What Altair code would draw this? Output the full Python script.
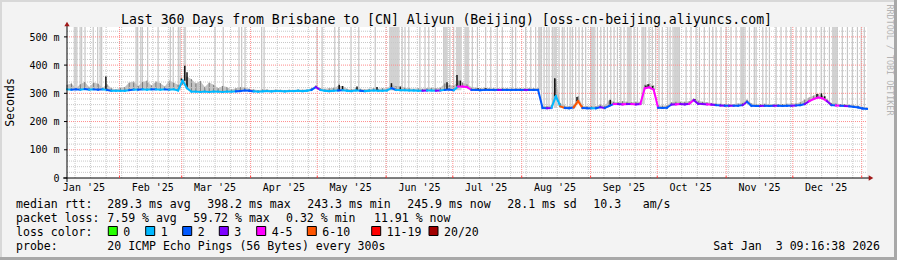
import altair as alt
import pandas as pd
from datetime import datetime, timedelta

# ---------------- data ----------------
START = datetime(2025, 1, 8, 9, 16, 38)
END = datetime(2026, 1, 3, 9, 16, 38)
SPAN_DAYS = 360

sample_days = list(range(0, 361, 2))

median_ms = [
    314, 313, 314, 313, 315, 313, 314, 313, 314, 312,
    309, 309, 309, 309, 311, 313, 313, 314, 313, 314,
    314, 313, 314, 313, 314, 310, 345, 318, 306, 306,
    305, 306, 305, 306, 306, 305, 306, 306, 307, 308,
    310, 309, 307, 306, 307, 308, 307, 308, 308, 307,
    308, 308, 309, 308, 309, 312, 322, 312, 309, 308,
    309, 310, 311, 309, 308, 310, 309, 308, 309, 310,
    309, 309, 310, 318, 312, 311, 311, 310, 310, 309,
    309, 310, 310, 309, 310, 312, 313, 311, 324, 324,
    322, 312, 312, 311, 312, 312, 312, 312, 312, 312,
    312, 312, 312, 312, 312, 312, 312, 248, 247, 248,
    290, 254, 248, 247, 250, 272, 248, 247, 247, 247,
    251, 248, 255, 262, 262, 261, 262, 262, 261, 262,
    318, 321, 313, 249, 248, 249, 260, 261, 262, 261,
    263, 276, 263, 262, 261, 260, 258, 257, 256, 256,
    256, 256, 258, 270, 256, 255, 255, 256, 255, 256,
    256, 255, 256, 256, 257, 258, 262, 272, 280, 285,
    282, 272, 258, 257, 256, 255, 254, 252, 250, 246,
    245,
]

loss_class = [
    1, 2, 2, 1, 2, 1, 2, 2, 1, 2,
    1, 1, 1, 1, 2, 1, 2, 1, 1, 2,
    1, 1, 2, 1, 1, 1, 1, 1, 1, 1,
    1, 1, 1, 1, 1, 1, 1, 1, 2, 2,
    2, 2, 1, 1, 1, 1, 1, 1, 1, 1,
    1, 1, 1, 1, 1, 2, 3, 1, 1, 1,
    1, 2, 1, 1, 1, 1, 2, 1, 1, 1,
    1, 1, 1, 2, 1, 1, 1, 1, 1, 1,
    3, 1, 1, 3, 1, 2, 2, 1, 4, 4,
    4, 2, 2, 2, 2, 2, 2, 3, 2, 2,
    2, 2, 2, 3, 2, 2, 2, 2, 3, 1,
    1, 5, 2, 2, 5, 5, 2, 2, 1, 2,
    3, 2, 2, 4, 3, 4, 3, 4, 3, 4,
    4, 4, 4, 2, 2, 2, 3, 4, 3, 3,
    4, 3, 3, 3, 4, 3, 2, 3, 2, 3,
    2, 2, 3, 2, 2, 2, 3, 2, 2, 3,
    2, 2, 2, 3, 2, 2, 3, 4, 4, 4,
    4, 3, 2, 4, 2, 3, 2, 2, 2, 2,
    2,
]

smoke_top_ms = [
    330, 335, 318, 332, 340, 322, 338, 334, 320, 332,
    318, 314, 320, 322, 338, 342, 326, 340, 345, 328,
    342, 336, 324, 345, 338, 330, 330, 360, 350, 335,
    344, 322, 338, 330, 318, 326, 322, 314, 318, 322,
    320, 316, 314, 312, 314, 314, 312, 314, 313, 312,
    313, 312, 314, 313, 314, 318, 328, 318, 316, 318,
    320, 325, 326, 316, 314, 318, 316, 314, 316, 318,
    316, 318, 317, 330, 325, 326, 320, 318, 316, 318,
    316, 318, 320, 318, 320, 335, 330, 326, 345, 338,
    332, 322, 320, 318, 320, 318, 318, 317, 318, 318,
    317, 318, 318, 317, 318, 318, 318, 256, 254, 258,
    350, 265, 256, 254, 258, 290, 256, 254, 254, 254,
    260, 256, 275, 270, 268, 272, 270, 268, 270, 270,
    330, 334, 328, 258, 256, 258, 268, 270, 270, 270,
    272, 282, 274, 270, 268, 266, 264, 263, 262, 262,
    262, 264, 266, 278, 264, 262, 262, 263, 262, 262,
    262, 262, 263, 264, 264, 268, 278, 285, 292, 298,
    292, 280, 266, 264, 262, 262, 260, 258, 256, 252,
    250,
]

tall_smoke_days = [
    3.6, 4.4, 5.9, 6.6, 8.1, 11.8, 13.8, 14.9, 15.6, 31.1, 31.8, 33.2, 33.9,
    36.3, 41.0, 46.5, 47.8, 50.1, 50.9, 66.6, 70.3, 77.4, 78.6, 80.1, 87.6,
    88.7, 112.5, 114.8, 120.5, 122.3, 127.8, 131.3, 138.7, 145.4, 146.3, 147.2,
    148.1, 149.3, 150.8, 152.1, 153.8, 158.8, 161.1, 162.8, 165.7, 169.5, 170.1,
    171.0, 172.3, 174.0, 175.5, 176.4, 177.3,
    179.4, 180.5, 182.4, 184.7, 188.4, 190.7, 193.6, 195.9, 200.4, 201.9, 206.4,
    208.7, 210.9, 212.4, 213.5, 214.7, 215.9, 216.9, 218.4, 219.2, 221.4, 222.9,
    223.7, 225.2, 226.4, 227.4, 228.9, 230.4, 231.9, 233.4, 235.7, 237.2, 238.7,
    240.2, 241.7, 243.2, 244.7, 246.2, 247.7, 249.2, 250.7, 252.2, 253.7, 255.2,
    256.7, 258.9, 260.4, 261.9, 263.4, 264.9, 266.4, 267.9,
    270.3, 271.4, 272.7, 273.8, 275.1, 275.6, 278.6, 280.8, 283.1, 284.6, 286.8,
    289.1, 290.6, 292.1, 294.3, 296.6, 298.8, 301.1, 303.3, 304.2, 305.1, 307.1,
    309.3, 310.1, 313.1, 314.6, 316.1, 319.1, 321.3, 323.6, 325.8, 328.1, 330.3,
    332.6, 334.8, 337.1, 339.4, 340.8, 343.1, 344.6, 345.2, 345.8, 346.6, 348.9,
    351.2, 353.4, 355.7, 357.4, 358.8,
]

# denser bands of smoke (start day, end day)
smoke_band_start = [3.0, 52.5, 145.0, 169.5, 175.0, 178.8, 212.0, 219.0, 235.5,
                    252.0, 258.5, 273.0, 303.2, 344.2]
smoke_band_end = [4.6, 53.6, 149.5, 171.0, 177.5, 181.0, 213.5, 220.5, 237.8,
                  254.0, 260.0, 275.6, 304.6, 346.6]

spike_days = [17.5, 51.5, 53.0, 54.0, 122.5, 124.0, 130.5, 139.5, 146.0, 150.0,
              171.0, 175.5, 177.0, 181.0, 185.0, 188.5, 219.5, 229.5, 244.5,
              260.5, 261.5, 262.5, 263.5, 282.5, 337.5, 339.5, 341.0]
spike_top_ms = [360, 353, 398, 375, 330, 326, 324, 322, 336, 322,
                339, 365, 345, 322, 318, 318, 353, 287, 277,
                328, 332, 318, 326, 280, 298, 300, 290]

loss_names = ["0", "1", "2", "3", "4-5", "6-10", "11-19", "20/20"]
loss_colors = ["#26ff00", "#00b8ff", "#0059ff", "#7e00ff", "#ff00ff",
               "#ff5500", "#ff0000", "#a10000"]

month_labels = ["Jan '25", "Feb '25", "Mar '25", "Apr '25", "May '25", "Jun '25",
                "Jul '25", "Aug '25", "Sep '25", "Oct '25", "Nov '25", "Dec '25"]
y_tick_values = [0, 100, 200, 300, 400, 500]
y_tick_labels = ["0\u00a0\u00a0", "100 m", "200 m", "300 m", "400 m", "500 m"]

title_text = "Last 360 Days from Brisbane to [CN] Aliyun (Beijing) [oss-cn-beijing.aliyuncs.com]"
legend_row1 = ["median rtt:", "289.3 ms avg", "398.2 ms max", "243.3 ms min",
               "245.9 ms now", "28.1 ms sd", "10.3", "am/s"]
legend_row2 = ["packet loss:", "7.59 % avg", "59.72 % max", "0.32 % min", "11.91 % now"]
probe_text = "20 ICMP Echo Pings (56 Bytes) every 300s"
date_text = "Sat Jan\u00a0\u00a03 09:16:38 2026"

# ---------------- layout ----------------
W, H = 800, 151
Y_MAX = 535
FONT = "DejaVu Sans Mono"
OX, OY = 67, 27   # plot origin inside the canvas

def day_of(dt):
    return (dt - START).total_seconds() / 86400.0

xs = alt.Scale(domain=[0, SPAN_DAYS], nice=False, zero=False)
ys = alt.Scale(domain=[0, Y_MAX], nice=False, zero=False)

def X(f):
    return alt.X(f, type="quantitative", scale=xs, axis=None)

def Y(f):
    return alt.Y(f, type="quantitative", scale=ys, axis=None)

def nearest_median(d):
    i = min(range(len(sample_days)), key=lambda k: abs(sample_days[k] - d))
    return median_ms[i]

one = pd.DataFrame({"a": [0]})
layers = []

# tall light smoke
tall_df = pd.DataFrame({"day": tall_smoke_days,
                        "lo": [nearest_median(d) for d in tall_smoke_days],
                        "hi": [Y_MAX] * len(tall_smoke_days)})
layers.append(alt.Chart(tall_df).mark_rule(color="#c6c6c6", strokeWidth=1.2, clip=True)
              .encode(x=X("day"), y=Y("lo"), y2="hi"))
band_df = pd.DataFrame({"d0": smoke_band_start, "d1": smoke_band_end,
                        "lo": [nearest_median(d) for d in smoke_band_start],
                        "hi": [Y_MAX] * len(smoke_band_start)})
layers.append(alt.Chart(band_df).mark_rect(color="#d2d2d2", clip=True)
              .encode(x=X("d0"), x2="d1", y=Y("lo"), y2="hi"))

# medium smoke: a band plus hair lines
sm_df = pd.DataFrame({"day": sample_days, "lo": median_ms, "hi": smoke_top_ms})
layers.append(alt.Chart(sm_df).mark_area(color="#b4b4b4", opacity=0.8)
              .encode(x=X("day"), y=Y("lo"), y2="hi"))
layers.append(alt.Chart(sm_df).mark_rule(color="#7a7a7a", strokeWidth=1)
              .encode(x=X("day"), y=Y("lo"), y2="hi"))

# horizontal grid
minor_h = [v for v in range(20, Y_MAX, 20) if v % 100 != 0]
layers.append(alt.Chart(pd.DataFrame({"v": minor_h})).mark_rule(
    color="#c8c8c8", strokeWidth=1, strokeDash=[1, 1])
    .encode(y=Y("v"), x=alt.value(0), x2=alt.value(W)))
layers.append(alt.Chart(pd.DataFrame({"v": y_tick_values[1:]})).mark_rule(
    color="#ff8c8c", strokeWidth=1, strokeDash=[1, 1])
    .encode(y=Y("v"), x=alt.value(0), x2=alt.value(W)))

# vertical grid
sundays = []
d = datetime(2025, 1, 12)
while d < END:
    sundays.append(day_of(d))
    d += timedelta(days=7)
month_starts = [day_of(datetime(2025, m, 1)) for m in range(2, 13)] + [day_of(datetime(2026, 1, 1))]
label_days = [day_of(datetime(2025, m, 16)) for m in range(1, 13)]

layers.append(alt.Chart(pd.DataFrame({"d": sundays})).mark_rule(
    color="#c8c8c8", strokeWidth=1, strokeDash=[1, 1])
    .encode(x=X("d"), y=alt.value(0), y2=alt.value(H)))
layers.append(alt.Chart(pd.DataFrame({"d": month_starts})).mark_rule(
    color="#ff8c8c", strokeWidth=1, strokeDash=[1, 1])
    .encode(x=X("d"), y=alt.value(0), y2=alt.value(H)))

# black spikes
sp_df = pd.DataFrame({"day": spike_days,
                      "lo": [nearest_median(d) for d in spike_days],
                      "hi": spike_top_ms})
layers.append(alt.Chart(sp_df).mark_rule(color="#111111", strokeWidth=1.5)
              .encode(x=X("day"), y=Y("lo"), y2="hi"))

# median line coloured by loss
seg = pd.DataFrame({
    "d0": sample_days[:-1], "d1": sample_days[1:],
    "v0": median_ms[:-1], "v1": median_ms[1:],
    "loss": [loss_names[c] for c in loss_class[:-1]],
})
layers.append(alt.Chart(seg).mark_rule(strokeWidth=2, strokeCap="square")
              .encode(x=X("d0"), x2="d1", y=Y("v0"), y2="v1",
                      color=alt.Color("loss:N", scale=alt.Scale(domain=loss_names, range=loss_colors),
                                      legend=None)))

# axes
layers.append(alt.Chart(one).mark_rule(color="#000000", strokeWidth=1)
              .encode(x=alt.value(-4), x2=alt.value(W + 2), y=alt.value(H)))
layers.append(alt.Chart(one).mark_rule(color="#000000", strokeWidth=1)
              .encode(x=alt.value(0), y=alt.value(H + 4), y2=alt.value(-3)))
layers.append(alt.Chart(one).mark_point(shape="triangle-right", filled=True, size=28,
                                        color="#a01818", opacity=1)
              .encode(x=alt.value(W + 4), y=alt.value(H)))
layers.append(alt.Chart(one).mark_point(shape="triangle-up", filled=True, size=28,
                                        color="#a01818", opacity=1)
              .encode(x=alt.value(0), y=alt.value(-3)))
# ticks
layers.append(alt.Chart(pd.DataFrame({"v": y_tick_values})).mark_rule(color="#000000")
              .encode(y=Y("v"), x=alt.value(-3), x2=alt.value(0)))
layers.append(alt.Chart(pd.DataFrame({"d": month_starts})).mark_rule(color="#ff4040")
              .encode(x=X("d"), y=alt.value(H - 2), y2=alt.value(H)))

# y labels
layers.append(alt.Chart(pd.DataFrame({"v": y_tick_values, "t": y_tick_labels}))
              .mark_text(font=FONT, fontSize=10, align="right", baseline="alphabetic", dy=3.7,
                         color="#000000")
              .encode(y=Y("v"), x=alt.value(-7.5), text="t:N"))
# x labels
layers.append(alt.Chart(pd.DataFrame({"d": label_days, "t": month_labels}))
              .mark_text(font=FONT, fontSize=10, align="center", baseline="alphabetic",
                         color="#000000")
              .encode(x=X("d"), y=alt.value(164), text="t:N"))

def txt(s, x_abs, y_abs, size=11.55, align="left", baseline="alphabetic", angle=0, color="#000000"):
    kw = dict(font=FONT, fontSize=size, align=align, baseline=baseline, color=color, text=s)
    if angle:
        kw["angle"] = angle
    return alt.Chart(one).mark_text(**kw).encode(x=alt.value(x_abs - OX), y=alt.value(y_abs - OY))

layers.append(txt(title_text, 446.5, 24, size=13.2, align="center"))
layers.append(txt("Seconds", 11, 102.5, size=11.55, align="center", baseline="middle", angle=270))
layers.append(txt("RRDTOOL / TOBI OETIKER", 890, 60, size=8.4, align="center",
                  baseline="middle", angle=90, color="#b4b4b4"))

row1_x = [16, 107.3, 207.3, 307.3, 407.3, 507.3, 593.3, 642.7]
for s, xx in zip(legend_row1, row1_x):
    layers.append(txt(s, xx, 207.5))
row2_x = [16, 107.3, 193.3, 286, 374]
for s, xx in zip(legend_row2, row2_x):
    layers.append(txt(s, xx, 221.5))
layers.append(txt("loss color:", 16, 235.5))
box_x = [108.3, 145.7, 182.7, 219.3, 256.7, 307.3, 371.7, 429.0]
box_df = pd.DataFrame({"name": loss_names, "bx": [b - OX for b in box_x]})
box_df["bx2"] = box_df["bx"] + 9
layers.append(alt.Chart(box_df).mark_rect(stroke="#000000", strokeWidth=1)
              .encode(x=alt.X("bx:Q", scale=None), x2="bx2:Q",
                      y=alt.value(226.5 - OY), y2=alt.value(235.5 - OY),
                      fill=alt.Fill("name:N", scale=alt.Scale(domain=loss_names, range=loss_colors),
                                    legend=None)))
for s, xx in zip(loss_names, box_x):
    layers.append(txt(s, xx + 15, 235.5))
layers.append(txt("probe:", 16, 249.5))
layers.append(txt(probe_text, 107.3, 249.5))
layers.append(txt(date_text, 880, 249.5, align="right"))

# frame
def frame(x1, x2, y1, y2, c):
    return alt.Chart(one).mark_rect(color=c).encode(
        x=alt.value(x1 - OX), x2=alt.value(x2 - OX), y=alt.value(y1 - OY), y2=alt.value(y2 - OY))

layers.append(frame(0, 897, 0, 2, "#d8d8d8"))
layers.append(frame(0, 2, 0, 260, "#d8d8d8"))
layers.append(frame(894, 897, 0, 260, "#a8a8a8"))
layers.append(frame(0, 897, 257, 260, "#a8a8a8"))

chart = alt.layer(*layers).resolve_scale(x="independent").properties(
    width=W, height=H,
    padding={"left": OX, "top": OY, "right": 897 - OX - W, "bottom": 260 - OY - H},
    autosize=alt.AutoSizeParams(type="none"),
    background="#f3f3f3",
).configure_view(fill="white", strokeWidth=0)

chart.save("out.html", embed_options={"renderer": "svg", "actions": False})
